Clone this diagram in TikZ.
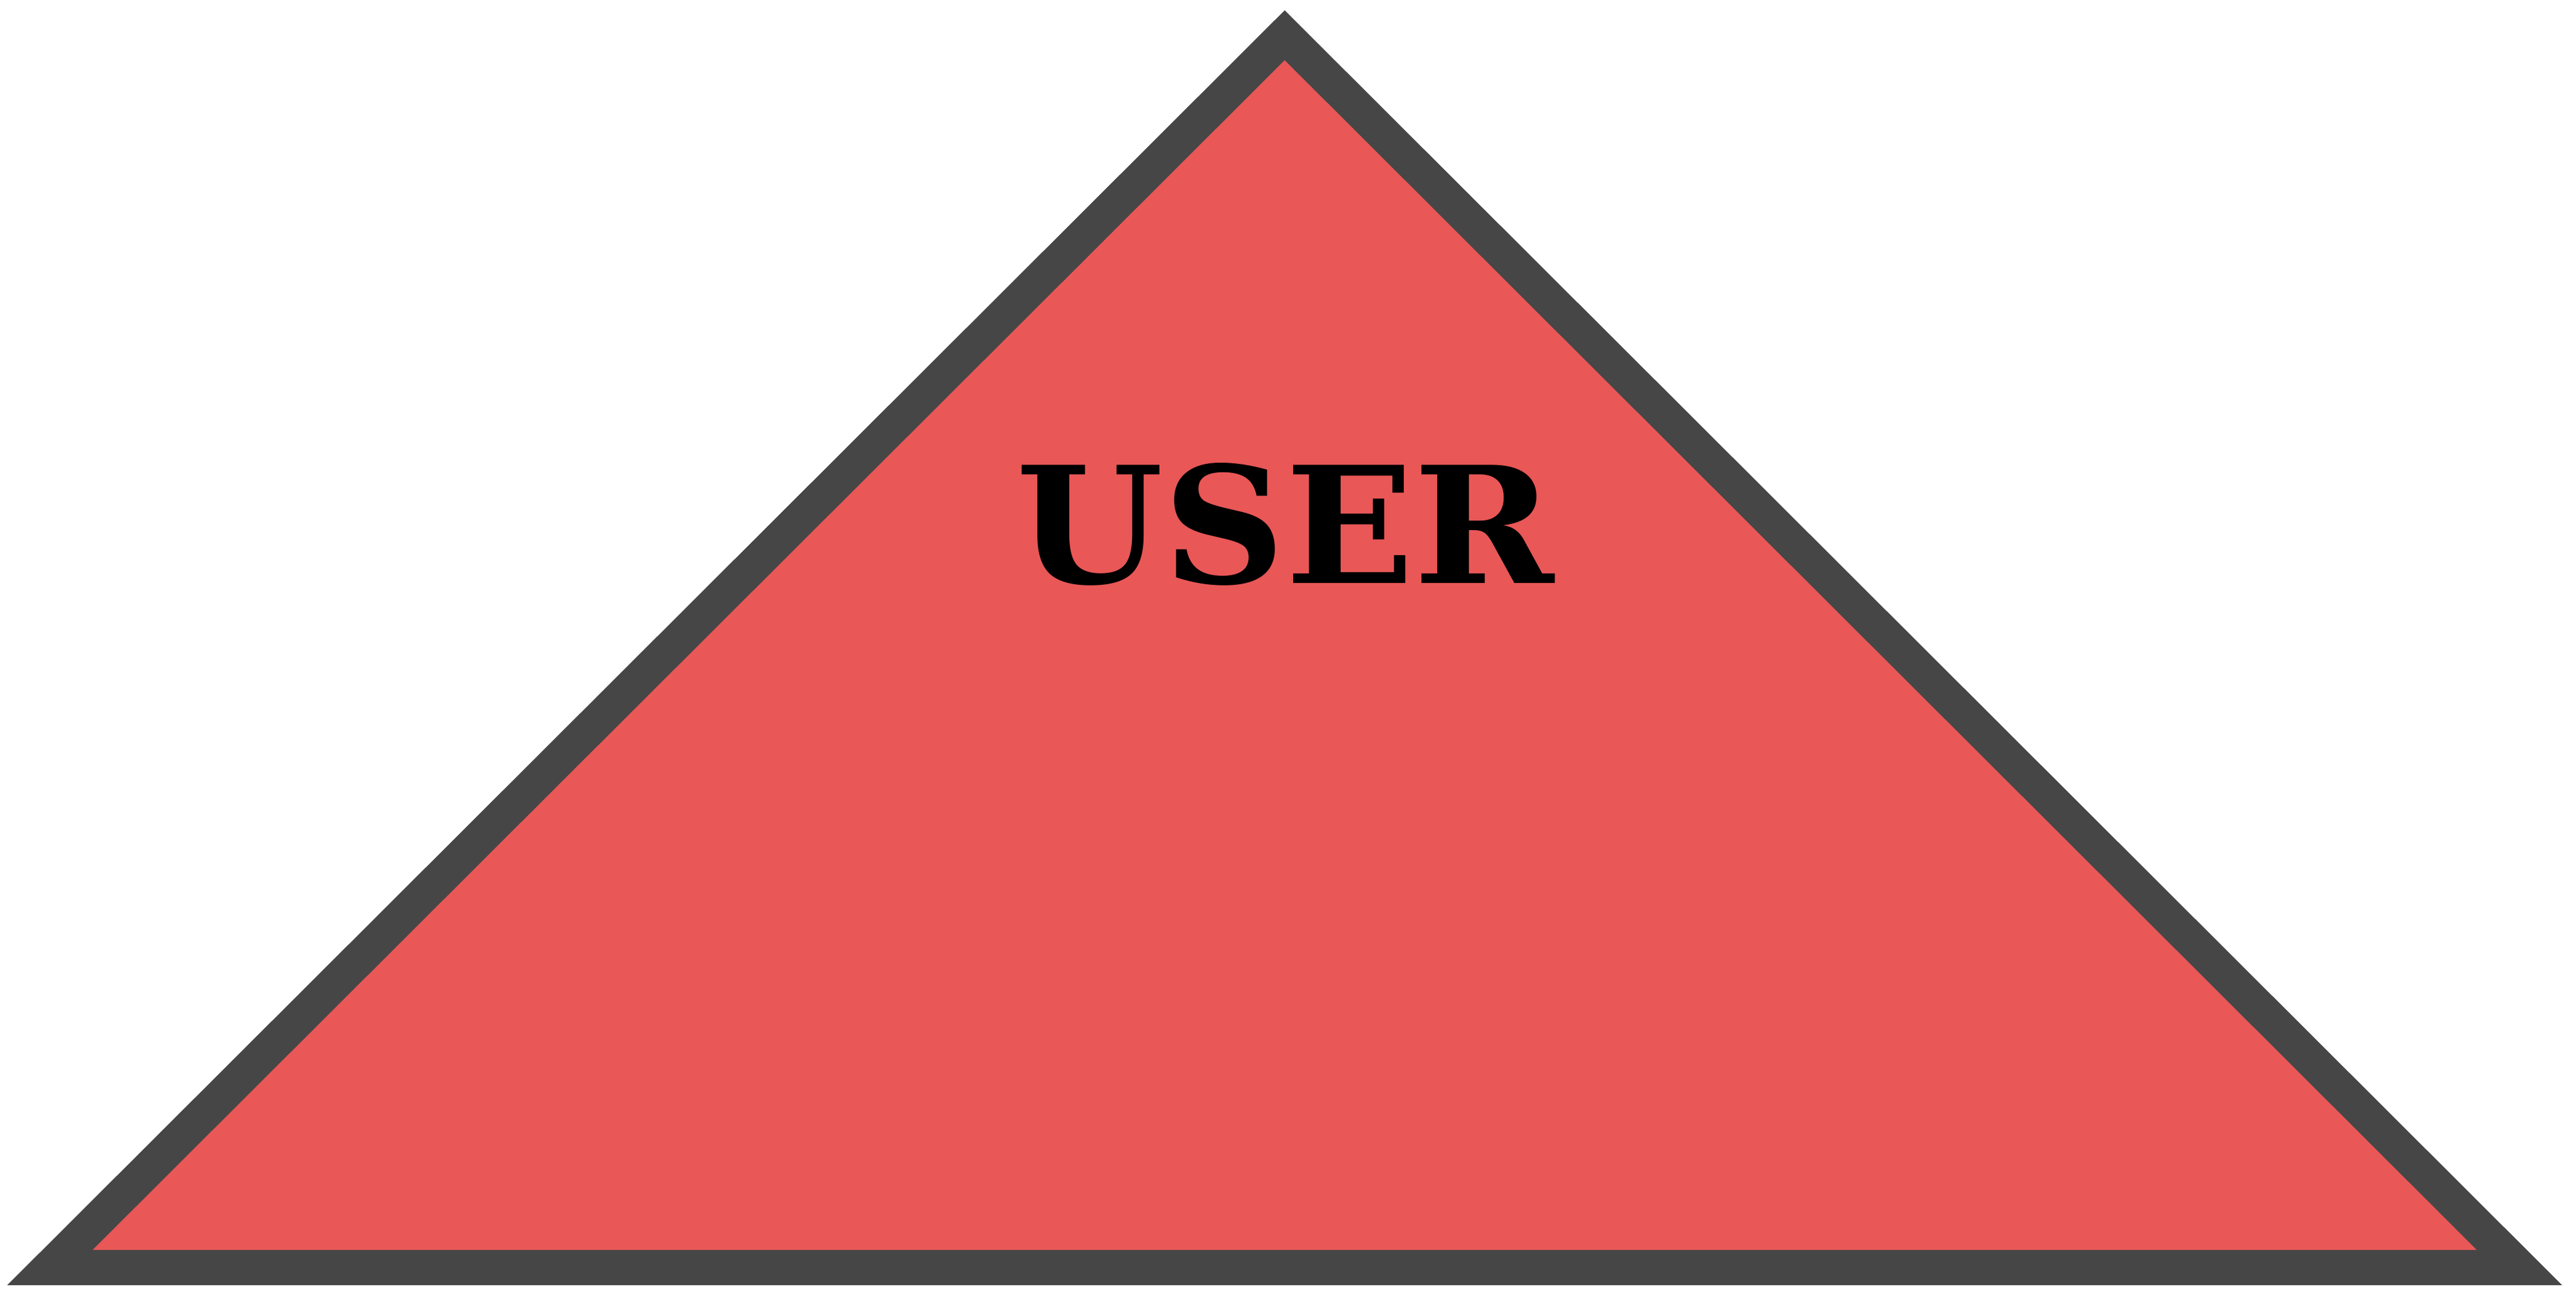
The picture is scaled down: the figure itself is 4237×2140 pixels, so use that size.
\documentclass[tikz,border=0pt]{standalone}
\usepackage{fontspec}
\newfontfamily\labelfont{DejaVu Serif}
\definecolor{trifill}{RGB}{233,87,87}
\definecolor{tristroke}{RGB}{70,70,70}
\tikzset{
  tri/.style={fill=trifill, draw=tristroke, line width=5.8pt, line join=miter},
  lbl/.style={inner sep=0pt, font=\labelfont\bfseries\fontsize{26.75}{30}\selectfont, text=black}
}
\begin{document}
\begin{tikzpicture}[x=0.1pt,y=-0.1pt]
\useasboundingbox (0,0) rectangle (4237,2140);
\coordinate (L) at (82,2085);
\coordinate (T) at (2113,58);
\coordinate (R) at (4144,2085);
\draw[tri] (L) -- (T) -- (R) -- cycle;
\node[lbl] (user) at (2114,862) {\resizebox{88.5pt}{19.8pt}{USER}};
\end{tikzpicture}
\end{document}
